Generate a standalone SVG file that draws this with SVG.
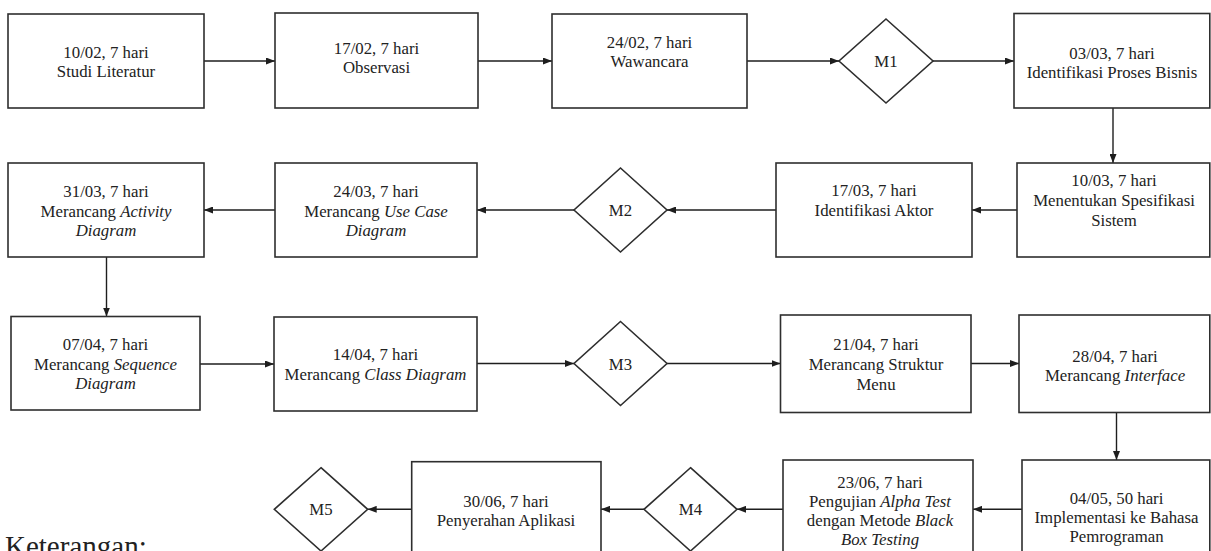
<svg xmlns="http://www.w3.org/2000/svg" width="1211" height="551" viewBox="0 0 1211 551">
<defs>
<marker id="ah" markerUnits="userSpaceOnUse" markerWidth="9" markerHeight="7" refX="9" refY="3.5" orient="auto">
<path d="M0,0 L9,3.5 L0,7 z" fill="#1e1e1e"/>
</marker>
<style>
.bx{fill:#fff;stroke:#2e2e2e;stroke-width:1.6}
.t{font-family:"Liberation Serif","Times New Roman",serif;font-size:16.8px;fill:#222;text-anchor:middle}
.i{font-style:italic}
.c line{stroke:#1e1e1e;stroke-width:1.4;marker-end:url(#ah)}
</style>
</defs>
<rect width="1211" height="551" fill="#fff"/>
<g class="c" id="connectors">
<line x1="204" y1="61" x2="275" y2="61"/>
<line x1="478" y1="61" x2="552" y2="61"/>
<line x1="747" y1="61" x2="839" y2="61"/>
<line x1="933" y1="61" x2="1014" y2="61"/>
<line x1="1113" y1="108" x2="1113" y2="163"/>
<line x1="1017" y1="210" x2="972" y2="210"/>
<line x1="776" y1="210" x2="667" y2="210"/>
<line x1="574" y1="210" x2="477" y2="210"/>
<line x1="275" y1="210" x2="204" y2="210"/>
<line x1="106.5" y1="257" x2="106.5" y2="316.5"/>
<line x1="200" y1="364" x2="274" y2="364"/>
<line x1="477" y1="363.5" x2="574" y2="363.5"/>
<line x1="667" y1="363.5" x2="780.5" y2="363.5"/>
<line x1="971" y1="363.5" x2="1019" y2="363.5"/>
<line x1="1116.5" y1="412.5" x2="1116.5" y2="460"/>
<line x1="1022" y1="509.3" x2="973" y2="509.3"/>
<line x1="783" y1="509.3" x2="737" y2="509.3"/>
<line x1="644" y1="509.3" x2="601" y2="509.3"/>
<line x1="411.7" y1="509.3" x2="367.7" y2="509.3"/>
</g>
<g id="n1"><rect class="bx" x="8" y="14" width="196" height="94"/><text class="t" x="106" y="58">10/02, 7 hari</text><text class="t" x="106" y="77">Studi Literatur</text></g>
<g id="n2"><rect class="bx" x="275" y="13" width="203" height="95"/><text class="t" x="376.5" y="54">17/02, 7 hari</text><text class="t" x="376.5" y="73">Observasi</text></g>
<g id="n3"><rect class="bx" x="552" y="14" width="195" height="94"/><text class="t" x="649.5" y="47.5">24/02, 7 hari</text><text class="t" x="649.5" y="67">Wawancara</text></g>
<g id="m1"><polygon class="bx" points="886,19 933,61 886,103 839,61"/><text class="t" x="886" y="67">M1</text></g>
<g id="n4"><rect class="bx" x="1014" y="13.5" width="195.8" height="94.5"/><text class="t" x="1112" y="58.5">03/03, 7 hari</text><text class="t" x="1112" y="78">Identifikasi Proses Bisnis</text></g>
<g id="n5"><rect class="bx" x="1017" y="163" width="192.8" height="94"/><text class="t" x="1114" y="186">10/03, 7 hari</text><text class="t" x="1114" y="206">Menentukan Spesifikasi</text><text class="t" x="1114" y="226">Sistem</text></g>
<g id="n6"><rect class="bx" x="776" y="163" width="196" height="94"/><text class="t" x="874" y="196">17/03, 7 hari</text><text class="t" x="874" y="216">Identifikasi Aktor</text></g>
<g id="m2"><polygon class="bx" points="620.5,168 667,210 620.5,252 574,210"/><text class="t" x="620.5" y="216">M2</text></g>
<g id="n7"><rect class="bx" x="275" y="163" width="202" height="94"/><text class="t" x="376" y="197">24/03, 7 hari</text><text class="t" x="376" y="216.5">Merancang <tspan class="i">Use Case</tspan></text><text class="t i" x="376" y="236">Diagram</text></g>
<g id="n8"><rect class="bx" x="8" y="163" width="196" height="94"/><text class="t" x="106" y="197">31/03, 7 hari</text><text class="t" x="106" y="216.5">Merancang <tspan class="i">Activity</tspan></text><text class="t i" x="106" y="236">Diagram</text></g>
<g id="n9"><rect class="bx" x="11" y="316.5" width="189" height="93.5"/><text class="t" x="105.5" y="350">07/04, 7 hari</text><text class="t" x="105.5" y="370">Merancang <tspan class="i">Sequence</tspan></text><text class="t i" x="105.5" y="389">Diagram</text></g>
<g id="n10"><rect class="bx" x="274" y="317" width="203" height="94"/><text class="t" x="375.5" y="360">14/04, 7 hari</text><text class="t" x="375.5" y="380">Merancang <tspan class="i">Class Diagram</tspan></text></g>
<g id="m3"><polygon class="bx" points="620.5,321.5 667,363.5 620.5,405.5 574,363.5"/><text class="t" x="620.5" y="369.5">M3</text></g>
<g id="n11"><rect class="bx" x="780.5" y="315" width="190.5" height="97.5"/><text class="t" x="876" y="350">21/04, 7 hari</text><text class="t" x="876" y="370">Merancang Struktur</text><text class="t" x="876" y="390">Menu</text></g>
<g id="n12"><rect class="bx" x="1019" y="315" width="190.8" height="97.5"/><text class="t" x="1115" y="362">28/04, 7 hari</text><text class="t" x="1115" y="381">Merancang <tspan class="i">Interface</tspan></text></g>
<g id="n13"><rect class="bx" x="1022" y="460" width="187.8" height="100"/><text class="t" x="1116.5" y="503.5">04/05, 50 hari</text><text class="t" x="1116.5" y="523">Implementasi ke Bahasa</text><text class="t" x="1116.5" y="542">Pemrograman</text></g>
<g id="n14"><rect class="bx" x="783" y="460" width="190" height="100"/><text class="t" x="880" y="488">23/06, 7 hari</text><text class="t" x="880" y="507">Pengujian <tspan class="i">Alpha Test</tspan></text><text class="t" x="880" y="526">dengan Metode <tspan class="i">Black</tspan></text><text class="t i" x="880" y="545">Box Testing</text></g>
<g id="m4"><polygon class="bx" points="690.5,467.7 737,509.3 690.5,551 644,509.3"/><text class="t" x="690.5" y="515.3">M4</text></g>
<g id="n15"><rect class="bx" x="411.7" y="461.7" width="189.3" height="100"/><text class="t" x="506" y="507">30/06, 7 hari</text><text class="t" x="506" y="526">Penyerahan Aplikasi</text></g>
<g id="m5"><polygon class="bx" points="321,467.7 367.7,509.3 321,551 274.3,509.3"/><text class="t" x="321" y="515.3">M5</text></g>
<text x="5" y="556" style="font-family:'Liberation Serif','Times New Roman',serif;font-size:29px;fill:#222">Keterangan:</text>
</svg>
